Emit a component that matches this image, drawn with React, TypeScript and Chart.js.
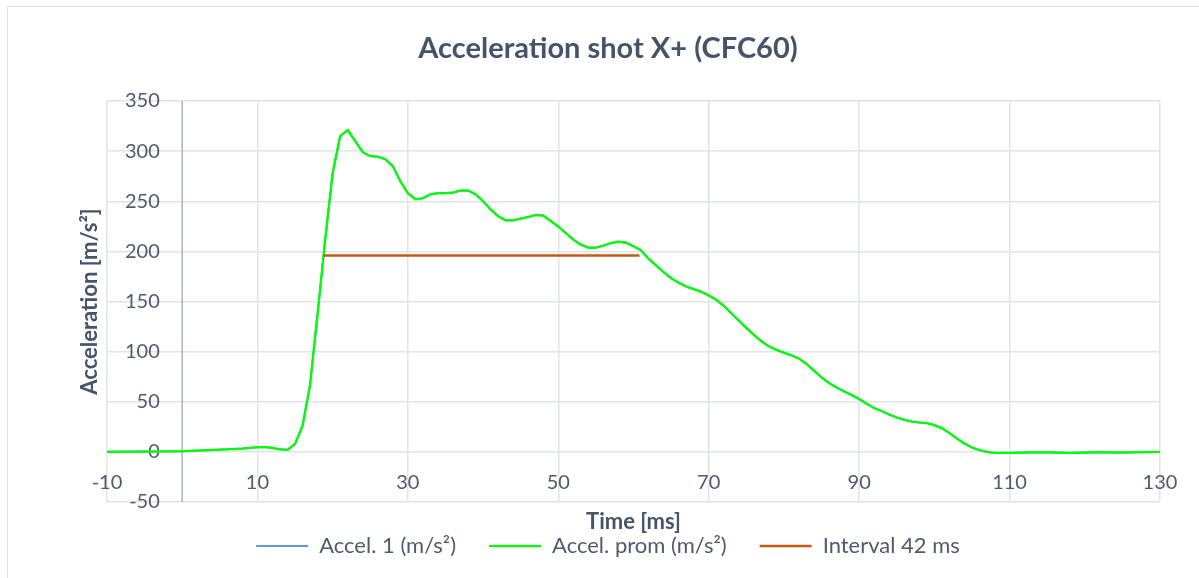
import React, { useEffect, useRef } from 'react';
import { Chart, registerables } from 'chart.js';

Chart.register(...registerables);

// ---- data ----
const timeMs = [
  -10, -5, 0, 3, 6, 8, 10, 11, 12, 13, 14, 15, 16, 17, 18, 19, 20, 21, 22, 23, 24, 25, 26, 27, 28, 29,
  30, 31, 32, 33, 34, 35, 36, 37, 38, 39, 40, 41, 42, 43, 44, 45, 46, 47, 48, 49,
  50, 51, 52, 53, 54, 55, 56, 57, 58, 59, 60, 61, 62, 63, 64, 65, 66, 67, 68, 69,
  70, 71, 72, 73, 74, 75, 76, 77, 78, 79, 80, 81, 82, 83, 84, 85, 86, 87, 88, 89,
  90, 91, 92, 93, 94, 95, 96, 97, 98, 99, 100, 101, 102, 103, 104, 105, 106, 107, 108,
  110, 112, 114, 116, 118, 120, 122, 124, 126, 128, 130,
];

const accelPromValues = [
  0, 0.3, 0.7, 1.5, 2.5, 3.3, 4.7, 4.8, 4, 2.5, 2, 8, 26, 67, 138, 211, 278, 315, 321, 310, 299, 295, 294.5, 292, 285, 270,
  258, 252, 253, 257, 258, 258, 258.7, 260.7, 260.7, 257, 250, 242, 235, 231, 231, 232.7, 234.3, 236.3, 235.7, 230.3,
  224.7, 218.3, 211.7, 206.7, 203.7, 203.7, 205.7, 208.3, 209.7, 208.7, 205, 201, 192.7, 186, 179.3, 173.3, 168.7, 165, 162.3, 159.7,
  156, 151.7, 145.7, 138.3, 131, 123.7, 116.7, 110.3, 105.3, 101.7, 99, 96.3, 93, 87.7, 81, 74.3, 68.7, 64.3, 60.3, 56.7,
  52.7, 48, 43.7, 40.7, 37.3, 34.3, 32, 30.3, 29.3, 28.7, 26.7, 23.7, 18.7, 13.3, 8.3, 4.3, 1.7, 0, -1,
  -1, -0.7, -0.3, -0.7, -1, -0.7, -0.3, -0.7, -0.5, -0.2, 0,
];

// Accel. 1 coincides with the average curve (hidden underneath it in the reference)
const accel1Values = accelPromValues;

const intervalTimes = [18.8, 60.8];
const intervalValues = [196, 196];

const xTickValues = [-10, 10, 30, 50, 70, 90, 110, 130];
const yTickValues = [-50, 0, 50, 100, 150, 200, 250, 300, 350];

const seriesLabels = ['Accel. 1 (m/s²)', 'Accel. prom (m/s²)', 'Interval 42 ms'];
const chartTitle = 'Acceleration shot X+ (CFC60)';
const xAxisTitle = 'Time [ms]';
const yAxisTitle = 'Acceleration [m/s²]';

// ---- styles ----
const FONT = 'Lato, "Open Sans", sans-serif';
const TITLE_COLOR = '#44546a';
const TEXT_COLOR = '#4f5b6c';
const GRID_COLOR = '#e1e4e9';
const AXIS_COLOR = '#a9b2bf';

const extrasPlugin = {
  id: 'extras',
  beforeDatasetsDraw(chart: any) {
    const { ctx, chartArea, scales } = chart;
    const x0 = scales.x.getPixelForValue(0);
    ctx.save();
    ctx.strokeStyle = AXIS_COLOR;
    ctx.lineWidth = 1.5;
    ctx.beginPath();
    ctx.moveTo(x0, chartArea.top);
    ctx.lineTo(x0, chartArea.bottom);
    ctx.stroke();
    ctx.restore();
  },
  afterDraw(chart: any) {
    const { ctx, chartArea } = chart;
    ctx.save();
    ctx.font = `bold 22px ${FONT}`;
    ctx.fillStyle = TITLE_COLOR;
    ctx.textAlign = 'center';
    ctx.textBaseline = 'middle';
    ctx.fillText(xAxisTitle, (chartArea.left + chartArea.right) / 2, chartArea.bottom + 20);
    ctx.restore();
  },
};

export default function App() {
  const canvasRef = useRef<HTMLCanvasElement | null>(null);

  useEffect(() => {
    if (!canvasRef.current) return;
    const chart = new Chart(canvasRef.current, {
      type: 'line',
      data: {
        datasets: [
          {
            label: seriesLabels[0],
            data: timeMs.map((t, i) => ({ x: t, y: accel1Values[i] })),
            borderColor: '#5b9bd5',
            backgroundColor: '#5b9bd5',
            borderWidth: 2,
            pointRadius: 0,
            tension: 0,
            order: 2,
          },
          {
            label: seriesLabels[1],
            data: timeMs.map((t, i) => ({ x: t, y: accelPromValues[i] })),
            borderColor: '#00ff00',
            backgroundColor: '#00ff00',
            borderWidth: 2.25,
            pointRadius: 0,
            tension: 0,
            order: 1,
          },
          {
            label: seriesLabels[2],
            data: intervalTimes.map((t, i) => ({ x: t, y: intervalValues[i] })),
            borderColor: '#c55a11',
            backgroundColor: '#c55a11',
            borderWidth: 2.5,
            pointRadius: 0,
            tension: 0,
            order: 0,
          },
        ],
      },
      options: {
        responsive: false,
        animation: false,
        events: [],
        layout: { padding: { left: 56, right: 39, top: 0, bottom: 0 } },
        scales: {
          x: {
            type: 'linear',
            min: -10,
            max: 130,
            position: { y: 0 } as any,
            afterBuildTicks: (s: any) => {
              s.ticks = xTickValues.map((v) => ({ value: v }));
            },
            afterFit: (s: any) => {
              s.height = 0;
            },
            grid: { color: GRID_COLOR, lineWidth: 1.5, drawTicks: false },
            border: { display: false },
            ticks: {
              color: TEXT_COLOR,
              font: { family: FONT, size: 20 },
              padding: 19,
              maxRotation: 0,
              autoSkip: false,
            },
          },
          y: {
            type: 'linear',
            min: -50,
            max: 350,
            position: 'left',
            afterBuildTicks: (s: any) => {
              s.ticks = yTickValues.map((v) => ({ value: v }));
            },
            afterFit: (s: any) => {
              s.width = 51;
            },
            grid: { color: GRID_COLOR, lineWidth: 1.5, drawTicks: false },
            border: { display: false },
            ticks: {
              mirror: true,
              crossAlign: 'far',
              padding: 18,
              color: TEXT_COLOR,
              font: { family: FONT, size: 20 },
            },
            title: {
              display: true,
              text: yAxisTitle,
              color: TITLE_COLOR,
              font: { family: FONT, size: 22, weight: 'bold' },
              padding: { top: 20.8, bottom: 0 },
            },
          },
        },
        plugins: {
          tooltip: { enabled: false },
          title: {
            display: true,
            text: chartTitle,
            color: TITLE_COLOR,
            font: { family: FONT, size: 29, weight: 'bold' },
            padding: { top: 31.6, bottom: 34.6 },
          },
          legend: {
            position: 'bottom',
            labels: {
              boxWidth: 52,
              boxHeight: 0,
              padding: 33,
              color: TEXT_COLOR,
              font: { family: FONT, size: 22 },
              sort: (a: any, b: any) => a.datasetIndex - b.datasetIndex,
            },
          },
        },
      } as any,
      plugins: [extrasPlugin],
    });
    return () => chart.destroy();
  }, []);

  return (
    <div
      style={{
        position: 'fixed',
        left: 0,
        top: 0,
        width: 1199,
        height: 578,
        overflow: 'hidden',
        background: '#ffffff',
      }}
    >
      <div
        style={{
          position: 'absolute',
          left: 7,
          top: 6,
          width: 1400,
          height: 800,
          borderLeft: '1.5px solid #dcdfe4',
          borderTop: '1.5px solid #dcdfe4',
        }}
      />
      <canvas
        ref={canvasRef}
        width={1199}
        height={567}
        style={{ position: 'absolute', left: 0, top: 0 }}
      />
    </div>
  );
}
